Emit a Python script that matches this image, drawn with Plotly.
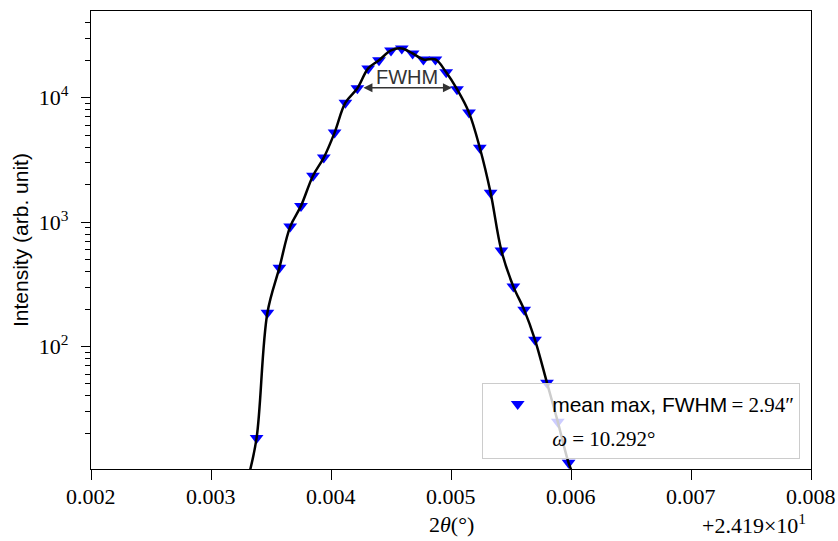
import numpy as np
import plotly.graph_objects as go

# 2theta scan around the peak, x is shown as offset from 24.19 deg
x_offset = 24.19
two_theta = [0.00338, 0.00347, 0.00357, 0.00366, 0.00375, 0.00385, 0.00394, 0.00403,
             0.00412, 0.00422, 0.00431, 0.00440, 0.00450, 0.00459, 0.00468, 0.00477,
             0.00487, 0.00496, 0.00505, 0.00515, 0.00524, 0.00533, 0.00542, 0.00552,
             0.00561, 0.00570, 0.00580, 0.00589, 0.00598]
intensity = [18.4, 187, 430, 920, 1350, 2360, 3300, 5240,
             9120, 11900, 17200, 20000, 24000, 24900, 22700, 20300,
             20300, 16000, 11700, 7590, 3960, 1720, 590, 303,
             197, 113, 51, 24.8, 11.6]

# where the smooth curve leaves the axes at both ends
curve_left_x, curve_left_y = [0.00331], [8.8]
curve_right_x, curve_right_y = [0.00603], [8.8]

# FWHM arrow (half maximum level)
fwhm_x = [0.004258, 0.005008]
fwhm_y = 12000

x_ticks = [0.002, 0.003, 0.004, 0.005, 0.006, 0.007, 0.008]
x_tick_text = ["0.002", "0.003", "0.004", "0.005", "0.006", "0.007", "0.008"]
y_ticks = [100, 1000, 10000]
y_tick_text = ["10<sup>2</sup>", "10<sup>3</sup>", "10<sup>4</sup>"]

SERIF = "Liberation Serif"
SANS = "Liberation Sans"
MATH = '<span style="font-family:Liberation Serif">'

curve_x = curve_left_x + two_theta + curve_right_x
curve_y = curve_left_y + intensity + curve_right_y

minor_vals = [m * 10**e for e in range(1, 5) for m in range(2, 10) if m * 10**e < 50000]

fig = go.Figure()
fig.add_trace(go.Scatter(x=two_theta, y=intensity, mode="markers", legendgroup="a",
                         marker=dict(symbol="triangle-down", color="#0000ff", size=12),
                         name="mean max, FWHM" + MATH + "\u2009=\u20052.94\u2033</span>"))
fig.add_trace(go.Scatter(x=curve_x, y=curve_y, mode="lines", showlegend=False,
                         line=dict(color="black", width=2.5, shape="spline", smoothing=1.0)))
fig.add_trace(go.Scatter(x=[None], y=[None], mode="markers", legendgroup="b",
                         marker=dict(color="rgba(0,0,0,0)", size=1),
                         name=MATH + "<i>\u03c9</i>\u2005=\u200510.292\u00b0</span>"))

fig.update_xaxes(range=[0.002, 0.008], tickvals=x_ticks, showticklabels=False,
                 showline=True, linecolor="black", linewidth=1.3, mirror=True,
                 ticks="outside", ticklen=10, tickwidth=1.3, tickcolor="black",
                 automargin=False, showgrid=False, zeroline=False)
fig.update_yaxes(type="log", range=[1.015, 4.697], tickvals=y_ticks, ticktext=y_tick_text,
                 showline=True, linecolor="black", linewidth=1.3, mirror=True,
                 ticks="outside", ticklen=9, tickwidth=1.3, tickcolor="black",
                 ticklabelstandoff=8, automargin=False,
                 minor=dict(tickmode="array", tickvals=minor_vals, ticks="outside",
                            ticklen=5, tickwidth=1, tickcolor="black", showgrid=False),
                 showgrid=False, zeroline=False,
                 tickfont=dict(family=SERIF, size=22, color="black"))

# x tick labels placed just under the ticks
for v, t in zip(x_ticks, x_tick_text):
    fig.add_annotation(x=v, y=0, xref="x", yref="paper", text=t, showarrow=False,
                       xanchor="center", yanchor="top", yshift=-13,
                       font=dict(family=SERIF, size=22, color="black"))

fig.add_annotation(x=fwhm_x[1], y=np.log10(fwhm_y), ax=fwhm_x[0], ay=np.log10(fwhm_y),
                   xref="x", yref="y", axref="x", ayref="y", text="", showarrow=True,
                   arrowside="end+start", arrowhead=2, arrowsize=1.2, arrowwidth=1.5,
                   arrowcolor="#333333")
fig.add_annotation(x=np.mean(fwhm_x), y=np.log10(fwhm_y), xref="x", yref="y",
                   text="FWHM", showarrow=False, yanchor="bottom", yshift=-2,
                   font=dict(family=SANS, size=20, color="#333333"))

fig.add_annotation(x=0.5, y=-0.122, xref="paper", yref="paper", text="2<i>\u03b8</i>(\u00b0)",
                   xanchor="center", yanchor="middle", showarrow=False,
                   font=dict(family=SERIF, size=22, color="black"))
fig.add_annotation(x=0.996, y=-0.12, xref="paper", yref="paper", xanchor="right",
                   yanchor="middle", text="+2.419\u00d710<sup>1</sup>", showarrow=False,
                   font=dict(family=SERIF, size=22, color="black"))
fig.add_annotation(x=-0.0986, y=0.5, xref="paper", yref="paper", textangle=-90,
                   xanchor="center", yanchor="middle",
                   text="Intensity (arb. unit)", showarrow=False,
                   font=dict(family=SANS, size=21, color="black"))

fig.update_layout(width=838, height=541, margin=dict(l=91, r=27, t=11, b=72),
                  paper_bgcolor="white", plot_bgcolor="white",
                  legend=dict(x=0.985, y=0.022, xanchor="right", yanchor="bottom",
                              bgcolor="rgba(255,255,255,0.8)", bordercolor="#cccccc",
                              borderwidth=1, itemwidth=59, traceorder="grouped",
                              tracegroupgap=3,
                              font=dict(family=SANS, size=21, color="black")))

fig.write_html("out.html", config={"displayModeBar": False},
               post_script="document.body.style.margin='0px';")
